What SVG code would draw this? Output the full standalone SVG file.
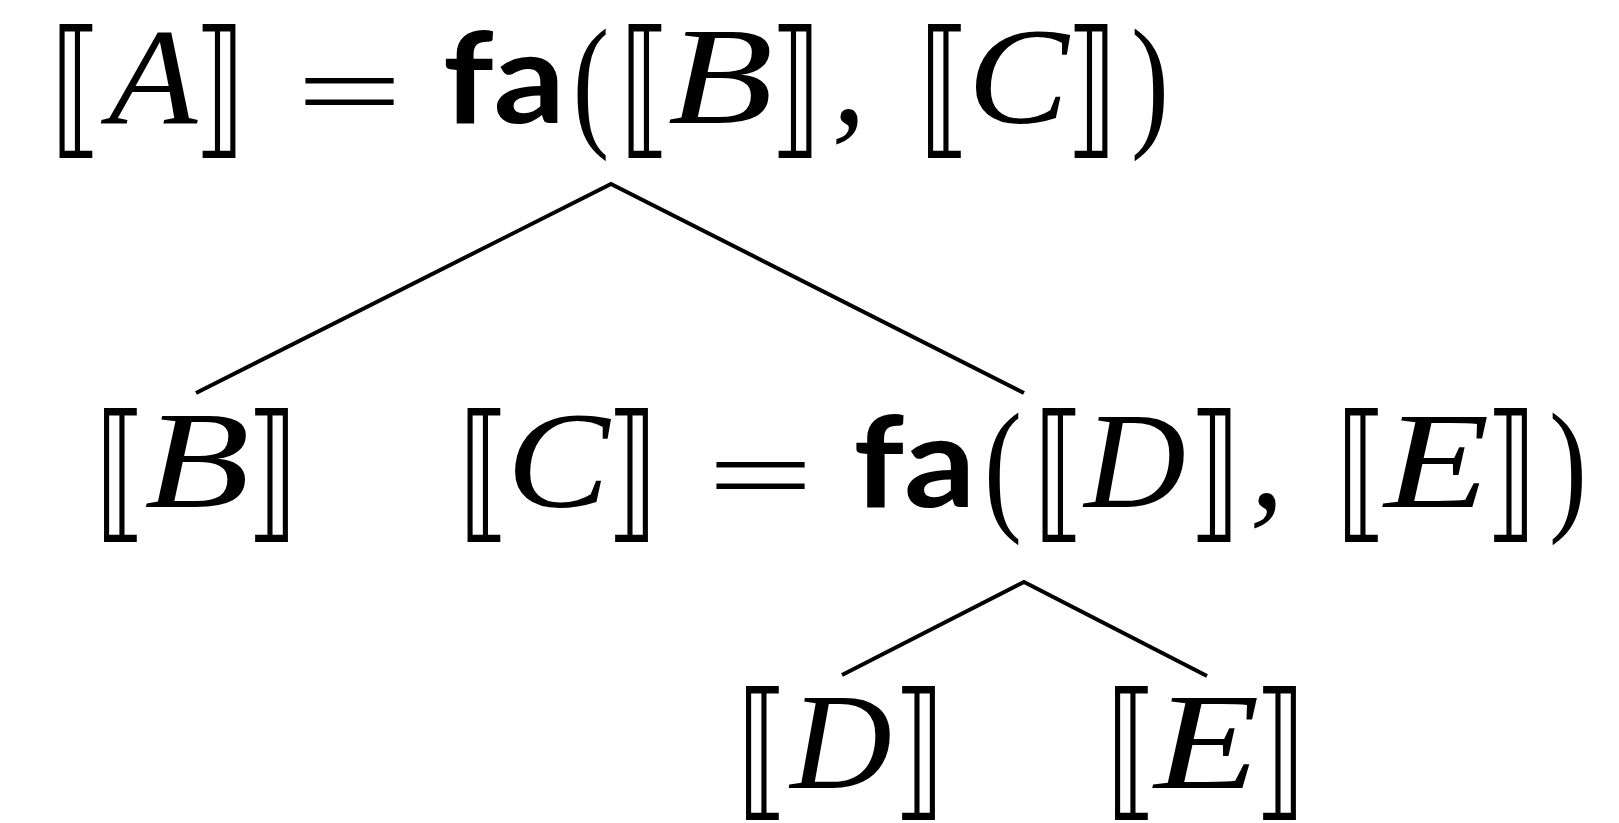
<svg xmlns="http://www.w3.org/2000/svg" width="1619" height="823" viewBox="0 0 1619 823">
<style>
text{fill:#000;text-anchor:middle}
.v{font-family:"Liberation Serif",serif;font-style:italic;font-size:138px}
.b{font-family:"DejaVu Serif","DejaVu Sans",serif;font-size:150px}
.p{font-family:"Liberation Serif",serif;font-size:146px}
.e{font-family:"Liberation Serif",serif;font-size:120px}
.f{font-family:Lato,sans-serif;font-weight:bold;font-size:126px}
.c{font-family:"Liberation Serif",serif;font-style:italic;font-size:138px}
.edge{fill:none;stroke:#000;stroke-width:4;stroke-linejoin:miter}
</style>
<rect width="1619" height="823" fill="#fff"/>
<g id="connectors">
<polyline class="edge" points="196,393 611,184 1024,393"/>
<polyline class="edge" points="842,675 1024,582 1207,676"/>
</g>
<g id="node-A">
<text class="b" transform="translate(76.5,138) scale(0.7,1)">⟦</text>
<text class="v" transform="translate(153,123) scale(1.05,1)">A</text>
<text class="b" transform="translate(219.5,138) scale(0.7,1)">⟧</text>
<text class="e" transform="translate(349.5,127) scale(1.58,0.9)">=</text>
<text class="f" transform="translate(504,123) scale(1.12,1)">fa</text>
<text class="p" transform="translate(591,130) scale(0.75,1)">(</text>
<text class="b" transform="translate(645.5,138) scale(0.7,1)">⟦</text>
<text class="v" transform="translate(720.5,123) scale(1.25,1)">B</text>
<text class="b" transform="translate(795.5,138) scale(0.7,1)">⟧</text>
<text class="c" x="849" y="123">,</text>
<text class="b" transform="translate(945,138) scale(0.7,1)">⟦</text>
<text class="v" transform="translate(1018,123) scale(1.1,1)">C</text>
<text class="b" transform="translate(1091.5,138) scale(0.7,1)">⟧</text>
<text class="p" transform="translate(1150,130) scale(0.78,1)">)</text>
</g>
<g id="node-B">
<text class="b" transform="translate(121,522) scale(0.7,1)">⟦</text>
<text class="v" transform="translate(197,507) scale(1.25,1)">B</text>
<text class="b" transform="translate(272,522) scale(0.7,1)">⟧</text>
</g>
<g id="node-C">
<text class="b" transform="translate(484.5,522) scale(0.7,1)">⟦</text>
<text class="v" transform="translate(558,507) scale(1.12,1)">C</text>
<text class="b" transform="translate(632,522) scale(0.7,1)">⟧</text>
<text class="e" transform="translate(760.5,511) scale(1.58,0.9)">=</text>
<text class="f" transform="translate(914.5,507) scale(1.12,1)">fa</text>
<text class="p" transform="translate(1003,514) scale(0.78,1)">(</text>
<text class="b" transform="translate(1059.5,522) scale(0.7,1)">⟦</text>
<text class="v" transform="translate(1135,507) scale(1.02,1)">D</text>
<text class="b" transform="translate(1214.5,522) scale(0.7,1)">⟧</text>
<text class="c" x="1267" y="507">,</text>
<text class="b" transform="translate(1362,522) scale(0.7,1)">⟦</text>
<text class="v" transform="translate(1437,507) scale(1.25,1)">E</text>
<text class="b" transform="translate(1511,522) scale(0.7,1)">⟧</text>
<text class="p" transform="translate(1568,514) scale(0.78,1)">)</text>
</g>
<g id="node-D">
<text class="b" transform="translate(763,800) scale(0.7,1)">⟦</text>
<text class="v" transform="translate(841,788) scale(1.02,1)">D</text>
<text class="b" transform="translate(919,800) scale(0.7,1)">⟧</text>
</g>
<g id="node-E">
<text class="b" transform="translate(1132,800) scale(0.7,1)">⟦</text>
<text class="v" transform="translate(1207,788) scale(1.25,1)">E</text>
<text class="b" transform="translate(1280,800) scale(0.7,1)">⟧</text>
</g>
</svg>
